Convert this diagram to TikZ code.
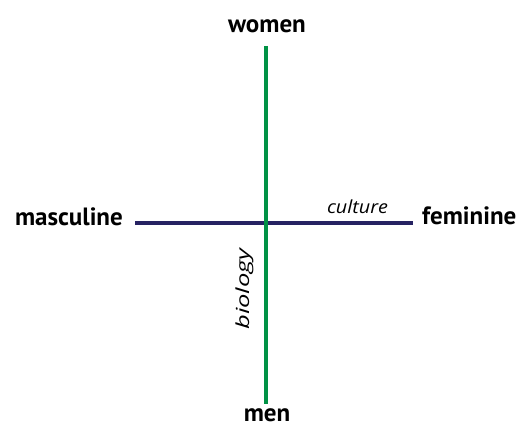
\documentclass[tikz,border=0pt]{standalone}
\usepackage{fontspec}
\setmainfont{Open Sans}
\newfontfamily\polefont{PT Sans}
\usepackage{tikz}
\usetikzlibrary{positioning}
\definecolor{axisgreen}{RGB}{0,146,69}
\definecolor{axisnavy}{RGB}{38,34,98}

\begin{document}
\begin{tikzpicture}[x=1pt,y=1pt,
    pole/.style={font=\polefont\fontsize{25}{28}\selectfont\bfseries, inner sep=0pt},
    axisname/.style={font=\fontsize{18}{21}\selectfont\itshape, inner sep=0pt}]
        \useasboundingbox (0,0) rectangle (521,430);
        \coordinate (top) at (266,384);
        \coordinate (bottom) at (266,26);
        \coordinate (left) at (135,207);
        \coordinate (right) at (413,207);
        \draw[axisnavy, line width=4pt](left)--(right); %横軸
        \draw[axisgreen, line width=4pt](top)--(bottom); %縦軸
        \node[pole, anchor=base] (women) at (267,397) {women};
        \node[pole, anchor=base] (men) at (267,8) {men};
        \node[pole, anchor=base east] (masculine) at (123,204) {masculine};
        \node[pole, anchor=base west] (feminine) at (422,205) {feminine};
        \node[axisname, anchor=base] (culture) at (357.5,216) {\scalebox{1.1}[1]{culture}};
        \node[axisname, anchor=base, rotate=90] (biology) at (249,141) {\scalebox{1.42}[1]{biology}};
    \end{tikzpicture}
\end{document}
